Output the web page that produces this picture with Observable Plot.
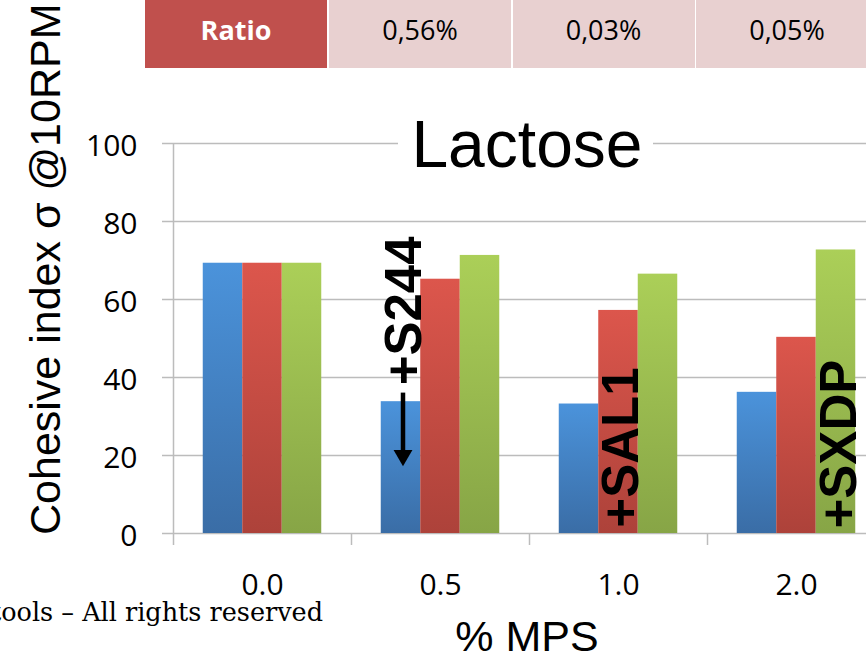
<!DOCTYPE html>
<html>
<head>
<meta charset="utf-8">
<script src="https://cdn.jsdelivr.net/npm/d3@7"></script>
<script src="https://cdn.jsdelivr.net/npm/@observablehq/plot@0.6"></script>
<style>
  html, body { margin: 0; padding: 0; background: #fff; overflow: hidden; }
  #wrap { position: relative; width: 866px; height: 653px; overflow: hidden; }
  .cell {
    position: absolute; top: 0; height: 68px; width: 182px;
    display: flex; align-items: center; justify-content: center;
    font-family: "Open Sans", sans-serif; font-size: 27px;
    padding-bottom: 10px; box-sizing: border-box;
    background: #e8d0d0; color: #000;
  }
  .cell.head { background: #c0504d; color: #fff; font-weight: bold; }
</style>
</head>
<body>
<div id="wrap"></div>
<script>
// Cohesive index of lactose blends at 10 RPM, by % MPS and additive
const categories = ["0.0", "0.5", "1.0", "2.0"];
const series = ["S244", "SAL1", "SXDP"];
const s244 = [69.3, 33.8, 33.2, 36.2];
const sal1 = [69.3, 65.2, 57.2, 50.3];
const sxdp = [69.3, 71.3, 66.5, 72.7];
const yTicks = [0, 20, 40, 60, 80, 100];

// ratio table above the chart
const ratioHeader = "Ratio";
const ratios = ["0,56%", "0,03%", "0,05%"];

// additive labels, anchored in data units (category, series, value)
const labels = [
  {category: "0.5", series: "S244", text: "+S244", y: 38},
  {category: "1.0", series: "SAL1", text: "+SAL1", y: 1.5},
  {category: "2.0", series: "SXDP", text: "+SXDP", y: 1.3}
];
const arrows = [{category: "0.5", series: "S244", y1: 36, y2: 17.2}];

const W = 866, H = 653;
const margin = {top: 143, right: -19, bottom: 120, left: 173};
const band = (W - margin.left - margin.right) / categories.length;
const barW = 39.5;
const inset = (band - barW) / 2;
const offset = (s) => (series.indexOf(s) - 1) * barW;

const values = {S244: s244, SAL1: sal1, SXDP: sxdp};
const rows = series.flatMap((s) => categories.map((c, i) => ({category: c, series: s, value: values[s][i]})));

const gradients = {
  S244: ["#4b93db", "#3a6da6"],
  SAL1: ["#dc564c", "#ad423a"],
  SXDP: ["#abcf58", "#87a546"]
};

const grid = "#bcbcbc";
const sans = "'Liberation Sans', Arial, sans-serif";
const tickFont = "'Open Sans', sans-serif";

const chart = Plot.plot({
  width: W,
  height: H,
  marginTop: margin.top,
  marginRight: margin.right,
  marginBottom: margin.bottom,
  marginLeft: margin.left,
  x: {type: "band", domain: categories, padding: 0},
  y: {domain: [0, 100]},
  style: {background: "white", fontFamily: tickFont, color: "black", overflow: "hidden"},
  marks: [
    Plot.gridY(yTicks, {stroke: grid, strokeOpacity: 1, strokeWidth: 1.5, insetLeft: -11}),
    ...series.map((s) =>
      Plot.barY(rows.filter((d) => d.series === s), {
        x: "category",
        y: "value",
        fill: `url(#fill-${s})`,
        insetLeft: inset,
        insetRight: inset,
        dx: offset(s)
      })
    ),
    // value axis line and category boundary ticks
    Plot.ruleX([categories[0]], {dx: -band / 2, insetBottom: -12, stroke: grid, strokeWidth: 1.5}),
    Plot.ruleX(categories.slice(1), {dx: -band / 2, y1: 0, y2: 0, insetBottom: -12, stroke: grid, strokeWidth: 1.5}),
    Plot.axisY({ticks: yTicks, tickSize: 0, tickPadding: 36, fontSize: 30, dy: 3, label: null}),
    Plot.axisX({tickSize: 0, tickPadding: 40, fontSize: 30, label: null}),
    ...labels.map((a) =>
      Plot.text([a], {
        x: "category",
        y: "y",
        text: "text",
        rotate: -90,
        textAnchor: "start",
        lineAnchor: "bottom",
        fontSize: 51,
        fontWeight: "bold",
        fontFamily: sans,
        fill: "black",
        dx: offset(a.series) + barW / 2
      })
    ),
    ...arrows.map((a) =>
      Plot.ruleX([a], {x: "category", y1: "y1", y2: "y2", stroke: "black", strokeWidth: 4.5, dx: offset(a.series) + 2, insetBottom: 12})
    ),
    ...arrows.map((a) =>
      Plot.dot([a], {x: "category", y: "y2", symbol: "triangle", rotate: 180, r: 7, fill: "black", stroke: "none", dx: offset(a.series) + 2, dy: -11})
    )
  ]
});

const svg = d3.select(chart);
const defs = svg.insert("defs", ":first-child");
for (const s of series) {
  const g = defs.append("linearGradient").attr("id", `fill-${s}`).attr("x1", 0).attr("y1", 0).attr("x2", 0).attr("y2", 1);
  g.append("stop").attr("offset", "0%").attr("stop-color", gradients[s][0]);
  g.append("stop").attr("offset", "100%").attr("stop-color", gradients[s][1]);
}

// title box over the top gridline
const cx = margin.left + 354;
svg.append("rect").attr("x", 398).attr("y", 118).attr("width", 255).attr("height", 56).attr("fill", "white");
svg.append("text").attr("x", cx).attr("y", 167).attr("text-anchor", "middle")
  .attr("font-family", sans).attr("font-size", 66).attr("fill", "black").text("Lactose");

// axis titles
svg.append("text").attr("transform", "translate(60,535) rotate(-90)").attr("text-anchor", "start")
  .attr("font-family", sans).attr("font-size", 43).attr("fill", "black").text("Cohesive index σ @10RPM");
svg.append("text").attr("x", cx).attr("y", 651).attr("text-anchor", "middle")
  .attr("font-family", sans).attr("font-size", 43).attr("fill", "black").text("% MPS");

// footer
svg.append("text").attr("x", 323).attr("y", 621).attr("text-anchor", "end")
  .attr("font-family", "'DejaVu Serif', serif").attr("font-size", 25.5).attr("fill", "black")
  .text("© Granutools – All rights reserved");

const wrap = document.getElementById("wrap");
wrap.appendChild(chart);

// ratio table
const cellLefts = [145, 329, 512.5, 696];
[ratioHeader, ...ratios].forEach((t, i) => {
  const div = document.createElement("div");
  div.className = "cell" + (i === 0 ? " head" : "");
  div.style.left = cellLefts[i] + "px";
  div.textContent = t;
  wrap.appendChild(div);
});
</script>
</body>
</html>
